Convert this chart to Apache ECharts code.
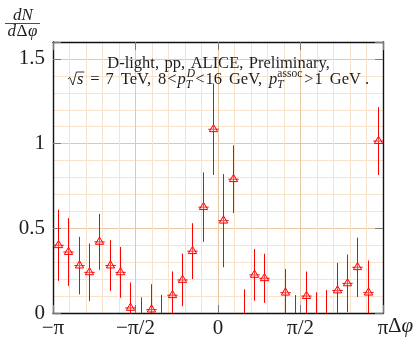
<!DOCTYPE html>
<html><head><meta charset="utf-8">
<script src="https://cdn.jsdelivr.net/npm/echarts@6/dist/echarts.min.js"></script>
<style>html,body{margin:0;padding:0;background:#fff}#c{width:417px;height:339px}</style>
</head><body><div id="c"></div>
<script>
// ---- data ----
const nBins = 32; // bins of width pi/16 from -pi to pi
const yieldValues = [0.40, 0.36, 0.28, 0.24, 0.42, 0.28, 0.24, 0.03,
  -0.05, 0.02, -0.04, 0.105, 0.195, 0.365, 0.625, 1.085,
  0.545, 0.79, -0.04, 0.225, 0.205, -0.20, 0.12, -0.04,
  0.10, -0.04, -0.04, 0.133, 0.175, 0.27, 0.12, 1.015];
const yieldErrors = [0.21, 0.20, 0.17, 0.17, 0.165, 0.15, 0.15, 0.15,
  0.142, 0.15, 0.146, 0.14, 0.155, 0.165, 0.205, 0.27,
  0.275, 0.20, 0.18, 0.153, 0.145, 0.14, 0.14, 0.146,
  0.145, 0.162, 0.175, 0.163, 0.17, 0.175, 0.19, 0.20];
const xTickLabels = ['−π', '−π/2', '0', 'π/2', 'π'];
const yTickLabels = ['0', '0.5', '1', '1.5'];

// ---- build ----
const PI = Math.PI;
const binWidth = 2 * PI / nBins;
const seriesData = yieldValues.map((v, i) => [-PI + (i + 0.5) * binWidth, v, yieldErrors[i]]);

const SERIF = '"Liberation Serif", "Times New Roman", serif';
const mctx = document.createElement('canvas').getContext('2d');
function tw(text, font) { mctx.font = font; return mctx.measureText(text).width; }
const INK = '#1e1e1e';

const graphics = [];
function txt(text, x, y, font, align) {
  graphics.push({type: 'text', x: x, y: y, silent: true, z: 100,
    style: {text: text, font: font, fill: INK, align: align || 'left', verticalAlign: 'middle'}});
}
function pline(points, w) {
  graphics.push({type: 'polyline', silent: true, z: 100, shape: {points: points},
    style: {stroke: INK, lineWidth: w || 0.9, fill: null}});
}
// pieces: {t,f} text, {g} gap, {sup,supF,sub,subF} stacked scripts, {rad,f} radical over text
function layout(pieces, cx, cy) {
  const w = pieces.map(p => p.g !== undefined ? p.g :
    p.sup !== undefined ? Math.max(tw(p.sup, p.supF), tw(p.sub, p.subF)) + 1 :
    p.rad !== undefined ? 9 + tw(p.rad, p.f) + 1 : tw(p.t, p.f));
  let x = cx - w.reduce((a, b) => a + b, 0) / 2;
  pieces.forEach((p, k) => {
    if (p.sup !== undefined) {
      txt(p.sup, x + (p.supX || 0), cy - 6.5, p.supF);
      txt(p.sub, x, cy + 4.5, p.subF);
    } else if (p.rad !== undefined) {
      pline([[x, cy - 1], [x + 2, cy - 2.5], [x + 5, cy + 5], [x + 8.5, cy - 8], [x + w[k], cy - 8]], 0.9);
      txt(p.rad, x + 9, cy, p.f);
    } else if (p.t !== undefined) {
      txt(p.t, x, cy, p.f);
    }
    x += w[k];
  });
}

const FS = 16.5;
const fUp = FS + 'px ' + SERIF;
const fIt = 'italic ' + FS + 'px ' + SERIF;
const fSmUp = '11.5px ' + SERIF;
const fSmIt = 'italic 11.5px ' + SERIF;
const SP = 5.5, SP2 = 7;
layout([{t: 'D-light,', f: fUp}, {g: SP}, {t: 'pp,', f: fUp}, {g: SP}, {t: 'ALICE,', f: fUp}, {g: SP}, {t: 'Preliminary,', f: fUp}], 218.5, 64);
layout([
  {rad: 's', f: fIt}, {g: 6}, {t: '=', f: fUp}, {g: 6}, {t: '7', f: fUp}, {g: SP2}, {t: 'TeV,', f: fUp}, {g: SP2},
  {t: '8', f: fUp}, {g: 1}, {t: '<', f: fUp}, {g: 1}, {t: 'p', f: fIt}, {sup: 'D', supF: fSmIt, supX: 1, sub: 'T', subF: fSmIt},
  {t: '<', f: fUp}, {g: 1}, {t: '16', f: fUp}, {g: SP2},
  {t: 'GeV,', f: fUp}, {g: SP2}, {t: 'p', f: fIt}, {sup: 'assoc', supF: fSmUp, sub: 'T', subF: fSmIt}, {g: 1},
  {t: '>', f: fUp}, {g: 1}, {t: '1', f: fUp}, {g: SP2}, {t: 'GeV', f: fUp}, {g: 4}, {t: '.', f: fUp}
], 218.5, 80);

// y axis title fraction dN / dΔφ
const fY = 'italic 17px ' + SERIF, fYu = '17px ' + SERIF;
txt('dN', 23, 15.5, fY, 'center');
graphics.push({type: 'line', silent: true, z: 100, shape: {x1: 5, y1: 23.5, x2: 40, y2: 23.5}, style: {stroke: INK, lineWidth: 0.8}});
layout([{t: 'd', f: fY}, {g: 0.5}, {t: 'Δ', f: fYu}, {g: 0.5}, {t: 'φ', f: fY}], 22.5, 31.5);
// x axis title Δφ
const fX = '21px ' + SERIF, fXi = 'italic 21px ' + SERIF;
txt('Δ', 388, 326, fX);
txt('φ', 388 + tw('Δ', fX), 326, fXi);

const majorColor = '#e7c7a2';
const minorColor = '#f8e2cb';
function xLab(v) {
  const k = Math.round((v + PI) / (PI / 2));
  return Math.abs(v - (-PI + k * PI / 2)) < 1e-6 && xTickLabels[k] !== undefined ? xTickLabels[k] : '';
}
function yLab(v) {
  const k = Math.round(v / 0.5);
  return Math.abs(v - k * 0.5) < 1e-6 && yTickLabels[k] !== undefined ? yTickLabels[k] : '';
}
const tickStyle = {show: true, inside: true, length: 8, lineStyle: {color: '#7a7a7a', width: 1}};
const lineStyle = {show: true, onZero: false, lineStyle: {color: '#111', width: 1.4}};

const xBase = {type: 'value', min: -PI, max: PI, interval: PI / 2};
const yBase = {type: 'value', min: 0, max: 1.6, interval: 0.5};

const option = {
  animation: false,
  backgroundColor: '#fff',
  grid: {left: 53, right: 34, top: 42, bottom: 26, containLabel: false},
  xAxis: [
    Object.assign({}, xBase, {position: 'bottom', axisLine: lineStyle, axisTick: tickStyle,
      axisLabel: {formatter: xLab, color: INK, fontFamily: SERIF, fontSize: 21, margin: 5},
      splitLine: {show: true, lineStyle: {color: majorColor, width: 1}},
      minorTick: {show: false, splitNumber: 5},
      minorSplitLine: {show: true, lineStyle: {color: minorColor, width: 1}}}),
    Object.assign({}, xBase, {position: 'top', axisLine: lineStyle, axisTick: tickStyle,
      axisLabel: {show: false}, splitLine: {show: false}})
  ],
  yAxis: [
    Object.assign({}, yBase, {position: 'left', axisLine: lineStyle, axisTick: tickStyle,
      axisLabel: {formatter: yLab, color: INK, fontFamily: SERIF, fontSize: 21, margin: 8},
      splitLine: {show: true, lineStyle: {color: majorColor, width: 1}},
      minorTick: {show: false, splitNumber: 5},
      minorSplitLine: {show: true, lineStyle: {color: minorColor, width: 1}}}),
    Object.assign({}, yBase, {position: 'right', axisLine: lineStyle, axisTick: tickStyle,
      axisLabel: {show: false}, splitLine: {show: false}})
  ],
  series: [{
    type: 'custom',
    clip: true,
    data: seriesData,
    renderItem: function (params, api) {
      const x = api.value(0), v = api.value(1), e = api.value(2);
      const c = api.coord([x, v]);
      const top = api.coord([x, v + e]);
      const bot = api.coord([x, v - e]);
      const halfW = api.size([binWidth, 0])[0] / 2;
      const r = 4.8;
      const cxp = Math.round(c[0]) + 0.5;
      return {type: 'group', children: [
        {type: 'line', shape: {x1: cxp, y1: top[1], x2: cxp, y2: bot[1]}, style: {stroke: '#ff0000', lineWidth: 1}},
        {type: 'line', shape: {x1: cxp - halfW, y1: c[1], x2: cxp + halfW, y2: c[1]}, style: {stroke: '#ff0000', lineWidth: 1}},
        {type: 'polygon', shape: {points: [[cxp, c[1] - r], [cxp - 0.866 * r, c[1] + 0.5 * r], [cxp + 0.866 * r, c[1] + 0.5 * r]]},
          style: {stroke: '#ff0000', fill: 'rgba(255,200,200,0.35)', lineWidth: 1}}
      ]};
    }
  }],
  graphic: graphics
};
const chart = echarts.init(document.getElementById('c'), null, {renderer: 'canvas'});
chart.setOption(option);
</script>
</body></html>
